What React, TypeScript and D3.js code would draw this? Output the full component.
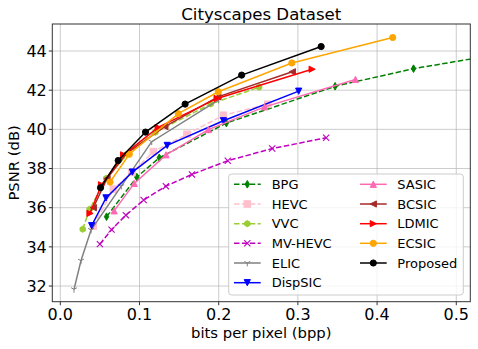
import React from "react";
import * as d3 from "d3";

const W = 478, H = 349;
const FONT = "DejaVu Sans, sans-serif";

const xTicks = [0.0, 0.1, 0.2, 0.3, 0.4, 0.5];
const yTicks = [32, 34, 36, 38, 40, 42, 44];

const bpgX = [0.0584, 0.0966, 0.125, 0.2097, 0.347, 0.446, 0.6];
const bpgY = [35.54, 37.56, 38.55, 40.32, 42.2, 43.1, 44.15];
const hevcX = [0.0416, 0.067, 0.0905, 0.1176, 0.16, 0.206, 0.262];
const hevcY = [35.06, 36.95, 37.8, 38.86, 39.75, 40.72, 41.28];
const vvcX = [0.0283, 0.037, 0.058, 0.085, 0.12, 0.19, 0.251];
const vvcY = [34.9, 35.92, 37.5, 38.75, 39.85, 41.3, 42.15];
const mvX = [0.05, 0.0647, 0.0828, 0.1052, 0.1333, 0.1662, 0.2115, 0.2676, 0.3357];
const mvY = [34.14, 34.88, 35.62, 36.39, 37.1, 37.7, 38.4, 39.02, 39.57];
const elicX = [0.0173, 0.0261, 0.0388, 0.077, 0.1154, 0.2];
const elicY = [31.83, 33.29, 34.86, 37.1, 39.37, 41.5];
const dispX = [0.0396, 0.0577, 0.091, 0.135, 0.206, 0.301];
const dispY = [35.08, 36.5, 37.82, 39.18, 40.44, 41.95];
const sasicX = [0.068, 0.0934, 0.1335, 0.187, 0.258, 0.3727];
const sasicY = [35.84, 37.24, 38.7, 39.99, 41.15, 42.55];
const bcsicX = [0.0417, 0.059, 0.0836, 0.132, 0.199, 0.293];
const bcsicY = [36.0, 37.49, 38.77, 40.14, 41.66, 42.94];
const ldmicX = [0.0375, 0.052, 0.08, 0.1235, 0.198, 0.318];
const ldmicY = [35.71, 37.17, 38.7, 40.1, 41.58, 43.07];
const ecsicX = [0.0628, 0.0871, 0.149, 0.1995, 0.2924, 0.4197];
const ecsicY = [37.31, 38.73, 40.8, 41.92, 43.39, 44.69];
const propX = [0.0508, 0.0731, 0.1076, 0.1576, 0.229, 0.3294];
const propY = [37.02, 38.41, 39.86, 41.29, 42.77, 44.23];

type M = "d" | "s" | "h" | "x" | "1" | "v" | "^" | "<" | ">" | "o";
interface S { name: string; xs: number[]; ys: number[]; color: string; marker: M; dashed: boolean; }

const series: S[] = [
  { name: "BPG", xs: bpgX, ys: bpgY, color: "#008000", marker: "d", dashed: true },
  { name: "HEVC", xs: hevcX, ys: hevcY, color: "#ffc0cb", marker: "s", dashed: true },
  { name: "VVC", xs: vvcX, ys: vvcY, color: "#9acd32", marker: "h", dashed: true },
  { name: "MV-HEVC", xs: mvX, ys: mvY, color: "#bf00bf", marker: "x", dashed: true },
  { name: "ELIC", xs: elicX, ys: elicY, color: "#808080", marker: "1", dashed: false },
  { name: "DispSIC", xs: dispX, ys: dispY, color: "#0000ff", marker: "v", dashed: false },
  { name: "SASIC", xs: sasicX, ys: sasicY, color: "#ff69b4", marker: "^", dashed: false },
  { name: "BCSIC", xs: bcsicX, ys: bcsicY, color: "#a52a2a", marker: "<", dashed: false },
  { name: "LDMIC", xs: ldmicX, ys: ldmicY, color: "#ff0000", marker: ">", dashed: false },
  { name: "ECSIC", xs: ecsicX, ys: ecsicY, color: "#ffa500", marker: "o", dashed: false },
  { name: "Proposed", xs: propX, ys: propY, color: "#000000", marker: "o", dashed: false },
];

const L = 52.3, R = 470.3, T = 24, B = 301.7;
const x = d3.scaleLinear().domain([-0.0101, 0.5177]).range([L, R]);
const y = d3.scaleLinear().domain([31.2, 45.38]).range([B, T]);

function Marker({ m, cx, cy, c }: { m: M; cx: number; cy: number; c: string }) {
  const s = 3.1;
  switch (m) {
    case "o":
      return <circle cx={cx} cy={cy} r={s} fill={c} stroke={c} strokeWidth={1} />;
    case "s":
      return <rect x={cx - 3.3} y={cy - 3.3} width={6.6} height={6.6} fill={c} stroke={c} strokeWidth={1} />;
    case "d":
      return <path d={`M${cx},${cy - 3.8}L${cx + 2.2},${cy}L${cx},${cy + 3.8}L${cx - 2.2},${cy}Z`} fill={c} stroke={c} strokeWidth={1} />;
    case "h": {
      const pts = d3.range(6).map(i => {
        const a = Math.PI / 2 + (i * Math.PI) / 3;
        return [cx + s * Math.cos(a), cy - s * Math.sin(a)];
      });
      return <polygon points={pts.map(p => p.join(",")).join(" ")} fill={c} stroke={c} strokeWidth={1} />;
    }
    case "x":
      return <path d={`M${cx - s},${cy - s}L${cx + s},${cy + s}M${cx - s},${cy + s}L${cx + s},${cy - s}`} stroke={c} strokeWidth={1.1} fill="none" />;
    case "1": {
      const r = 3.4;
      return <path d={`M${cx},${cy}L${cx},${cy + r}M${cx},${cy}L${cx - r * 0.87},${cy - r * 0.5}M${cx},${cy}L${cx + r * 0.87},${cy - r * 0.5}`} stroke={c} strokeWidth={1} fill="none" />;
    }
    case "^":
      return <path d={`M${cx},${cy - s}L${cx + s},${cy + s}L${cx - s},${cy + s}Z`} fill={c} stroke={c} strokeWidth={1} />;
    case "v":
      return <path d={`M${cx},${cy + s}L${cx + s},${cy - s}L${cx - s},${cy - s}Z`} fill={c} stroke={c} strokeWidth={1} />;
    case "<":
      return <path d={`M${cx - s},${cy}L${cx + s},${cy - s}L${cx + s},${cy + s}Z`} fill={c} stroke={c} strokeWidth={1} />;
    case ">":
      return <path d={`M${cx + s},${cy}L${cx - s},${cy - s}L${cx - s},${cy + s}Z`} fill={c} stroke={c} strokeWidth={1} />;
  }
  return null;
}

export default function App() {
  const grid = "#b0b0b0";
  const legendRows = [184.3, 204, 223.7, 243.3, 263, 282.7];
  return (
    <svg width={W} height={H} style={{ position: "absolute", left: 0, top: 0, background: "#fff" }} fontFamily={FONT}>
      <defs>
        <clipPath id="plot"><rect x={L} y={T} width={R - L} height={B - T} /></clipPath>
      </defs>
      <rect x={0} y={0} width={W} height={H} fill="#fff" />
      {xTicks.map(t => (
        <line key={"gx" + t} x1={x(t)} x2={x(t)} y1={T} y2={B} stroke={grid} strokeWidth={0.9} opacity={0.7} />
      ))}
      {yTicks.map(t => (
        <line key={"gy" + t} x1={L} x2={R} y1={y(t)} y2={y(t)} stroke={grid} strokeWidth={0.9} opacity={0.7} />
      ))}
      <g clipPath="url(#plot)">
        {series.map(s => {
          const pts = s.xs.map((v, i) => [x(v), y(s.ys[i])] as [number, number]);
          return (
            <g key={s.name}>
              <path d={d3.line()(pts) || ""} fill="none" stroke={s.color} strokeWidth={1.5}
                strokeDasharray={s.dashed ? "5.5,2.4" : undefined} />
              {pts.map((p, i) => <Marker key={i} m={s.marker} cx={p[0]} cy={p[1]} c={s.color} />)}
            </g>
          );
        })}
      </g>
      <rect x={L} y={T} width={R - L} height={B - T} fill="none" stroke="#333" strokeWidth={1} />
      {xTicks.map(t => (
        <g key={"xt" + t}>
          <line x1={x(t)} x2={x(t)} y1={B} y2={B + 3.5} stroke="#333" />
          <text x={x(t)} y={B + 18.5} textAnchor="middle" fontSize={16} fill="#000">{t.toFixed(1)}</text>
        </g>
      ))}
      {yTicks.map(t => (
        <g key={"yt" + t}>
          <line x1={L - 3.5} x2={L} y1={y(t)} y2={y(t)} stroke="#333" />
          <text x={L - 5.5} y={y(t)} dy="0.36em" textAnchor="end" fontSize={16} fill="#000">{t}</text>
        </g>
      ))}
      <text x={(L + R) / 2} y={338} textAnchor="middle" fontSize={14.8} fill="#000">bits per pixel (bpp)</text>
      <text transform={`translate(18.5,${(T + B) / 2}) rotate(-90)`} textAnchor="middle" fontSize={14.8} fill="#000">PSNR (dB)</text>
      <text x={261.3} y={19.5} textAnchor="middle" fontSize={16.6} fill="#000">Cityscapes Dataset</text>
      <g>
        <rect x={228.7} y={174} width={234.6} height={121} rx={3} fill="#fff" fillOpacity={0.8} stroke="#cccccc" strokeWidth={1} />
        {series.map((s, i) => {
          const col = i < 6 ? 0 : 1;
          const row = col === 0 ? i : i - 6;
          const x0 = col === 0 ? 234 : 360;
          const ly = legendRows[row];
          return (
            <g key={"lg" + s.name}>
              <line x1={x0} x2={x0 + 26.7} y1={ly} y2={ly} stroke={s.color} strokeWidth={1.5}
                strokeDasharray={s.dashed ? "5.5,2.4" : undefined} />
              <Marker m={s.marker} cx={x0 + 13.3} cy={ly} c={s.color} />
              <text x={col === 0 ? 271.7 : 397.3} y={ly} dy="0.36em" fontSize={13} fill="#000">{s.name}</text>
            </g>
          );
        })}
      </g>
    </svg>
  );
}
